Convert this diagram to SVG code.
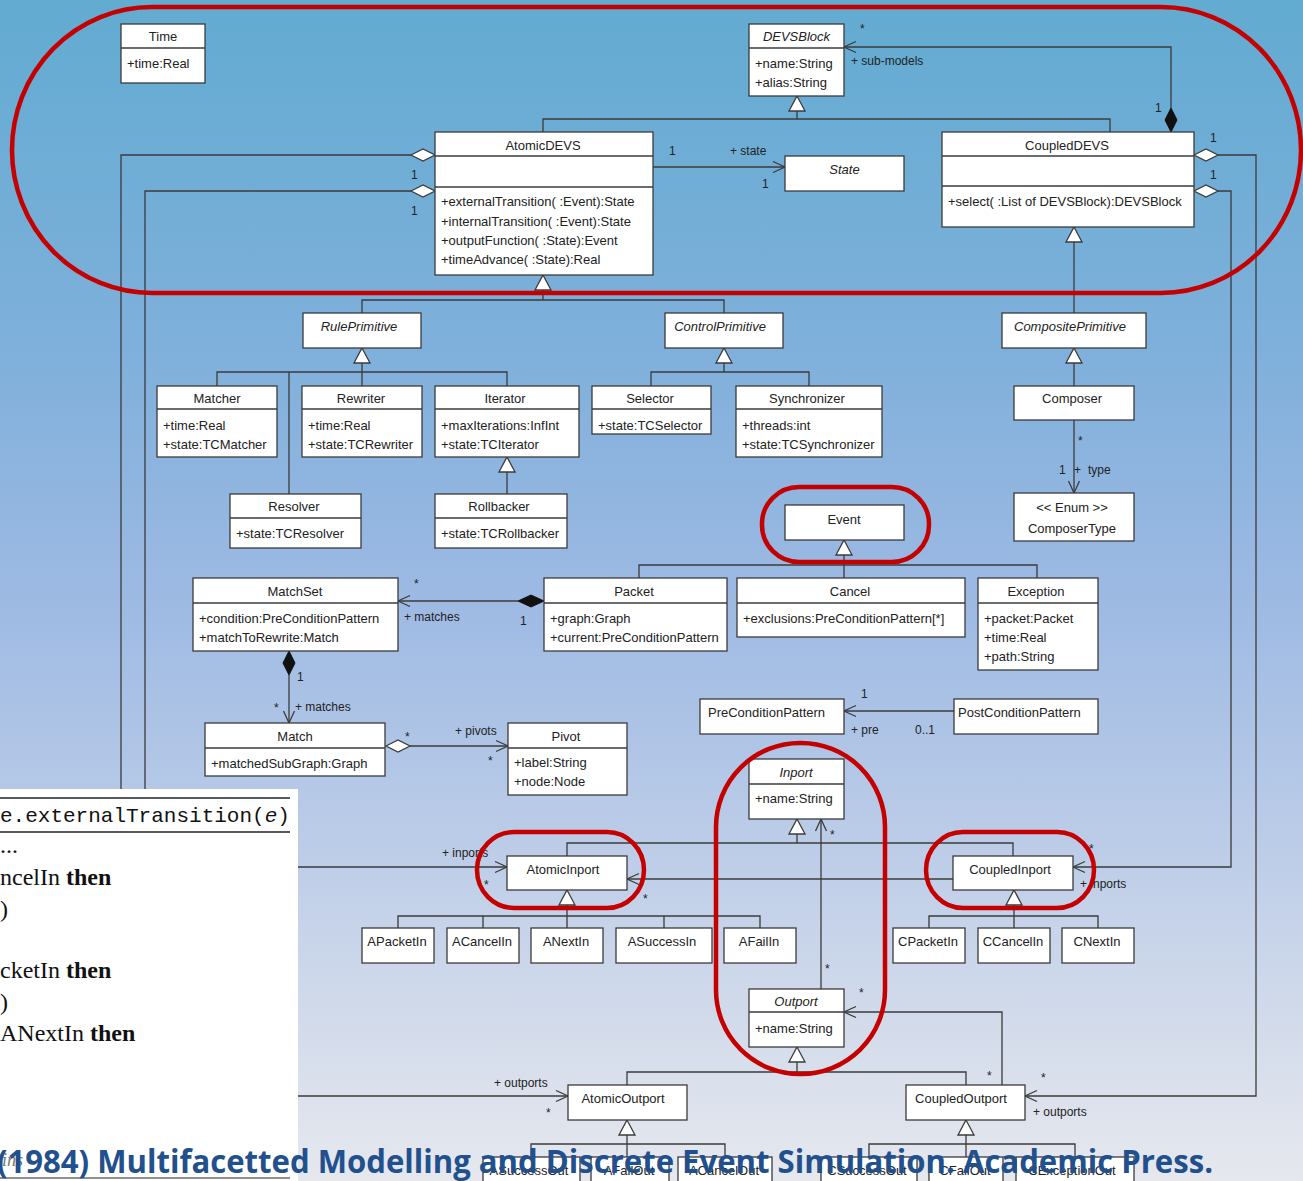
<svg xmlns="http://www.w3.org/2000/svg" xmlns:xlink="http://www.w3.org/1999/xlink" width="1303" height="1181" viewBox="0 0 1303 1181">
  <style>
    .box { fill: #fff; stroke: #3b3b3b; stroke-width: 1.3; }
    .div { stroke: #3b3b3b; stroke-width: 1.3; }
    .ln { fill: none; stroke: #3b3b3b; stroke-width: 1.3; }
    .t { font-family: "Liberation Sans", Arial, sans-serif; font-size: 13px; fill: #222; }
    .c { text-anchor: middle; }
    .i { font-style: italic; }
    .lbl { font-family: "Liberation Sans", Arial, sans-serif; font-size: 12px; fill: #222; }
    .red { fill: none; stroke: #c40000; stroke-width: 4.5; }
    .code { font-family: "Liberation Serif", "Times New Roman", serif; font-size: 24px; fill: #111; }
    .kw { font-weight: bold; }
  </style>
  <defs>
    <linearGradient id="bg" x1="0" y1="0" x2="0" y2="1">
      <stop offset="0" stop-color="#62abd1"/>
      <stop offset="0.3" stop-color="#7fb0db"/>
      <stop offset="0.5" stop-color="#9cb9e3"/>
      <stop offset="0.72" stop-color="#bdcde8"/>
      <stop offset="1" stop-color="#e6e8ee"/>
    </linearGradient>
    <marker id="oa" viewBox="0 0 12 12" refX="12" refY="6" markerWidth="12" markerHeight="12" markerUnits="userSpaceOnUse" orient="auto" overflow="visible">
      <path d="M0,0.5 L12,6 L0,11.5" fill="none" stroke="#3b3b3b" stroke-width="1.3"/>
    </marker>
    <path id="tri" d="M0,0 L8,15 L-8,15 Z" fill="#fff" stroke="#3b3b3b" stroke-width="1.3"/>
    <path id="odh" d="M0,0 L12,-6 L24,0 L12,6 Z" fill="#fff" stroke="#3b3b3b" stroke-width="1.3"/>
    <path id="fdh" d="M0,0 L13,-6 L26,0 L13,6 Z" fill="#111" stroke="#111" stroke-width="1"/>
    <path id="fdv" d="M0,0 L6,12 L0,24 L-6,12 Z" fill="#111" stroke="#111" stroke-width="1"/>
  </defs>

  <rect x="0" y="0" width="1303" height="1181" fill="url(#bg)"/>

  <!-- connectors -->
  <g id="connectors">
    <!-- generalizations -->
    <path class="ln" d="M797,111 V119 M543,132 V119 H1110 V132"/>
    <path class="ln" d="M543,290 V300 M362,313 V300 H724 V313"/>
    <path class="ln" d="M1074,242 V313"/>
    <path class="ln" d="M362,363 V386 M217,386 V372 H507 V386 M289,372 V494"/>
    <path class="ln" d="M507,472 V494"/>
    <path class="ln" d="M724,363 V372 M651,386 V372 H809 V386"/>
    <path class="ln" d="M1074,363 V386"/>
    <path class="ln" d="M844,555 V578 M639,578 V565 H1037 V578"/>
    <path class="ln" d="M797,834 V843 M567,856 V843 H1013 V856"/>
    <path class="ln" d="M567,905 V928 M398,928 V916 H760 V928 M483,916 V928 M664,916 V928"/>
    <path class="ln" d="M1014,905 V928 M929,928 V916 H1098 V928"/>
    <path class="ln" d="M797,1062 V1072 M627,1085 V1072 H966 V1085"/>
    <path class="ln" d="M627,1135 V1157 M531,1157 V1144 H725 V1157"/>
    <path class="ln" d="M966,1135 V1157 M869,1157 V1144 H1075 V1157"/>
    <use href="#tri" x="797" y="96"/>
    <use href="#tri" x="543" y="275"/>
    <use href="#tri" x="1074" y="227"/>
    <use href="#tri" x="362" y="348"/>
    <use href="#tri" x="507" y="457"/>
    <use href="#tri" x="724" y="348"/>
    <use href="#tri" x="1074" y="348"/>
    <use href="#tri" x="844" y="540"/>
    <use href="#tri" x="797" y="819"/>
    <use href="#tri" x="567" y="890"/>
    <use href="#tri" x="1014" y="890"/>
    <use href="#tri" x="797" y="1047"/>
    <use href="#tri" x="627" y="1120"/>
    <use href="#tri" x="966" y="1120"/>

    <!-- associations, aggregations and compositions -->
    <path class="ln" d="M1171,108 V47 H844" marker-end="url(#oa)"/>
    <use href="#fdv" x="1171" y="108"/>
    <path class="ln" d="M653,167 H785" marker-end="url(#oa)"/>
    <path class="ln" d="M411,155 H121 V1096 H568" marker-end="url(#oa)"/>
    <use href="#odh" x="411" y="155"/>
    <path class="ln" d="M411,191 H145 V867 H507" marker-end="url(#oa)"/>
    <use href="#odh" x="411" y="191"/>
    <path class="ln" d="M1218,155 H1256 V1096 H1025" marker-end="url(#oa)"/>
    <use href="#odh" x="1194" y="155"/>
    <path class="ln" d="M1218,191 H1231 V867 H1073" marker-end="url(#oa)"/>
    <use href="#odh" x="1194" y="191"/>
    <path class="ln" d="M1074,420 V493" marker-end="url(#oa)"/>
    <path class="ln" d="M518,601 H398" marker-end="url(#oa)"/>
    <use href="#fdh" x="518" y="601"/>
    <path class="ln" d="M289,675 V723" marker-end="url(#oa)"/>
    <use href="#fdv" x="289" y="651"/>
    <path class="ln" d="M410,746 H508" marker-end="url(#oa)"/>
    <use href="#odh" x="386" y="746"/>
    <path class="ln" d="M954,711 H844" marker-end="url(#oa)"/>
    <path class="ln" d="M821,989 V819" marker-end="url(#oa)"/>
    <path class="ln" d="M953,879 H627" marker-end="url(#oa)"/>
    <path class="ln" d="M1002,1085 V1012 H844" marker-end="url(#oa)"/>

    <!-- role names and multiplicities -->
    <text class="lbl" x="860" y="33">*</text>
    <text class="lbl" x="851" y="65">+ sub-models</text>
    <text class="lbl" x="1155" y="112">1</text>
    <text class="lbl" x="411" y="179">1</text>
    <text class="lbl" x="411" y="215">1</text>
    <text class="lbl" x="1210" y="142">1</text>
    <text class="lbl" x="1210" y="179">1</text>
    <text class="lbl" x="669" y="155">1</text>
    <text class="lbl" x="730" y="155">+ state</text>
    <text class="lbl" x="762" y="188">1</text>
    <text class="lbl" x="1078" y="445">*</text>
    <text class="lbl" x="1059" y="474">1</text>
    <text class="lbl" x="1074" y="474">+</text>
    <text class="lbl" x="1088" y="474">type</text>
    <text class="lbl" x="414" y="588">*</text>
    <text class="lbl" x="404" y="621">+ matches</text>
    <text class="lbl" x="520" y="625">1</text>
    <text class="lbl" x="297" y="681">1</text>
    <text class="lbl" x="274" y="712">*</text>
    <text class="lbl" x="295" y="711">+  matches</text>
    <text class="lbl" x="405" y="741">*</text>
    <text class="lbl" x="455" y="735">+ pivots</text>
    <text class="lbl" x="488" y="765">*</text>
    <text class="lbl" x="861" y="698">1</text>
    <text class="lbl" x="851" y="734">+ pre</text>
    <text class="lbl" x="915" y="734">0..1</text>
    <text class="lbl" x="442" y="857">+ inports</text>
    <text class="lbl" x="484" y="889">*</text>
    <text class="lbl" x="643" y="903">*</text>
    <text class="lbl" x="830" y="839">*</text>
    <text class="lbl" x="825" y="973">*</text>
    <text class="lbl" x="859" y="997">*</text>
    <text class="lbl" x="1089" y="853">*</text>
    <text class="lbl" x="1080" y="888">+ inports</text>
    <text class="lbl" x="494" y="1087">+ outports</text>
    <text class="lbl" x="546" y="1117">*</text>
    <text class="lbl" x="987" y="1080">*</text>
    <text class="lbl" x="1041" y="1082">*</text>
    <text class="lbl" x="1033" y="1116">+ outports</text>
  </g>

  <!-- classes -->
  <g id="Time"><rect class="box" x="121" y="24" width="84" height="59"/><line class="div" x1="121" y1="48" x2="205" y2="48"/><text class="t c" x="163" y="40.5">Time</text><text class="t" x="127" y="67.5">+time:Real</text></g>
  <g id="DEVSBlock"><rect class="box" x="749" y="24" width="95" height="72"/><line class="div" x1="749" y1="48" x2="844" y2="48"/><text class="t c i" x="796.5" y="40.5">DEVSBlock</text><text class="t" x="755" y="67.5">+name:String</text><text class="t" x="755" y="86.5">+alias:String</text></g>
  <g id="AtomicDEVS"><rect class="box" x="435" y="132" width="218" height="143"/><line class="div" x1="435" y1="156" x2="653" y2="156"/><line class="div" x1="435" y1="187" x2="653" y2="187"/><text class="t c" x="543" y="149.5">AtomicDEVS</text><text class="t" x="441" y="206">+externalTransition( :Event):State</text><text class="t" x="441" y="225.5">+internalTransition( :Event):State</text><text class="t" x="441" y="244.5">+outputFunction( :State):Event</text><text class="t" x="441" y="264">+timeAdvance( :State):Real</text></g>
  <g id="State"><rect class="box" x="785" y="156" width="119" height="35"/><text class="t c i" x="844.5" y="174">State</text></g>
  <g id="CoupledDEVS"><rect class="box" x="942" y="132" width="252" height="95"/><line class="div" x1="942" y1="156" x2="1194" y2="156"/><line class="div" x1="942" y1="186" x2="1194" y2="186"/><text class="t c" x="1067" y="149.5">CoupledDEVS</text><text class="t" x="948" y="205.5">+select( :List of DEVSBlock):DEVSBlock</text></g>
  <g id="RulePrimitive"><rect class="box" x="303" y="313" width="118" height="35"/><text class="t c i" x="359" y="330.5">RulePrimitive</text></g>
  <g id="ControlPrimitive"><rect class="box" x="665" y="313" width="118" height="35"/><text class="t c i" x="720" y="330.5">ControlPrimitive</text></g>
  <g id="CompositePrimitive"><rect class="box" x="1002" y="313" width="144" height="35"/><text class="t c i" x="1070" y="330.5">CompositePrimitive</text></g>
  <g id="Matcher"><rect class="box" x="157" y="386" width="120" height="71"/><line class="div" x1="157" y1="409" x2="277" y2="409"/><text class="t c" x="217" y="402.5">Matcher</text><text class="t" x="163" y="429.5">+time:Real</text><text class="t" x="163" y="448.5">+state:TCMatcher</text></g>
  <g id="Rewriter"><rect class="box" x="302" y="386" width="120" height="71"/><line class="div" x1="302" y1="409" x2="422" y2="409"/><text class="t c" x="361" y="402.5">Rewriter</text><text class="t" x="308" y="429.5">+time:Real</text><text class="t" x="308" y="448.5">+state:TCRewriter</text></g>
  <g id="Iterator"><rect class="box" x="435" y="386" width="144" height="71"/><line class="div" x1="435" y1="409" x2="579" y2="409"/><text class="t c" x="505" y="402.5">Iterator</text><text class="t" x="441" y="429.5">+maxIterations:InfInt</text><text class="t" x="441" y="448.5">+state:TCIterator</text></g>
  <g id="Selector"><rect class="box" x="592" y="386" width="119" height="48"/><line class="div" x1="592" y1="409" x2="711" y2="409"/><text class="t c" x="650" y="402.5">Selector</text><text class="t" x="598" y="429.5">+state:TCSelector</text></g>
  <g id="Synchronizer"><rect class="box" x="736" y="386" width="146" height="71"/><line class="div" x1="736" y1="409" x2="882" y2="409"/><text class="t c" x="807" y="402.5">Synchronizer</text><text class="t" x="742" y="429.5">+threads:int</text><text class="t" x="742" y="448.5">+state:TCSynchronizer</text></g>
  <g id="Composer"><rect class="box" x="1014" y="386" width="120" height="34"/><text class="t c" x="1072" y="402.5">Composer</text></g>
  <g id="Resolver"><rect class="box" x="230" y="494" width="131" height="54"/><line class="div" x1="230" y1="518" x2="361" y2="518"/><text class="t c" x="294" y="511">Resolver</text><text class="t" x="236" y="537.5">+state:TCResolver</text></g>
  <g id="Rollbacker"><rect class="box" x="435" y="494" width="132" height="54"/><line class="div" x1="435" y1="518" x2="567" y2="518"/><text class="t c" x="499" y="511">Rollbacker</text><text class="t" x="441" y="537.5">+state:TCRollbacker</text></g>
  <g id="ComposerType"><rect class="box" x="1014" y="493" width="120" height="48"/><text class="t c" x="1072" y="511.5">&lt;&lt; Enum &gt;&gt;</text><text class="t c" x="1072" y="532.5">ComposerType</text></g>
  <g id="Event"><rect class="box" x="785" y="505" width="119" height="35"/><text class="t c" x="844" y="523.5">Event</text></g>
  <g id="MatchSet"><rect class="box" x="193" y="578" width="205" height="73"/><line class="div" x1="193" y1="603" x2="398" y2="603"/><text class="t c" x="295" y="595.5">MatchSet</text><text class="t" x="199" y="622.5">+condition:PreConditionPattern</text><text class="t" x="199" y="641.5">+matchToRewrite:Match</text></g>
  <g id="Packet"><rect class="box" x="544" y="578" width="183" height="73"/><line class="div" x1="544" y1="603" x2="727" y2="603"/><text class="t c" x="634" y="595.5">Packet</text><text class="t" x="550" y="622.5">+graph:Graph</text><text class="t" x="550" y="641.5">+current:PreConditionPattern</text></g>
  <g id="Cancel"><rect class="box" x="737" y="578" width="228" height="59"/><line class="div" x1="737" y1="603" x2="965" y2="603"/><text class="t c" x="850" y="595.5">Cancel</text><text class="t" x="743" y="622.5">+exclusions:PreConditionPattern[*]</text></g>
  <g id="Exception"><rect class="box" x="978" y="578" width="120" height="92"/><line class="div" x1="978" y1="603" x2="1098" y2="603"/><text class="t c" x="1036" y="595.5">Exception</text><text class="t" x="984" y="622.5">+packet:Packet</text><text class="t" x="984" y="641.5">+time:Real</text><text class="t" x="984" y="660.5">+path:String</text></g>
  <g id="PreConditionPattern"><rect class="box" x="700" y="699" width="144" height="35"/><text class="t" x="708" y="716.5">PreConditionPattern</text></g>
  <g id="PostConditionPattern"><rect class="box" x="954" y="699" width="144" height="35"/><text class="t" x="958" y="716.5">PostConditionPattern</text></g>
  <g id="Match"><rect class="box" x="205" y="723" width="180" height="53"/><line class="div" x1="205" y1="748" x2="385" y2="748"/><text class="t c" x="295" y="740.5">Match</text><text class="t" x="211" y="767.5">+matchedSubGraph:Graph</text></g>
  <g id="Pivot"><rect class="box" x="508" y="723" width="119" height="72"/><line class="div" x1="508" y1="748" x2="627" y2="748"/><text class="t c" x="566" y="740.5">Pivot</text><text class="t" x="514" y="766.5">+label:String</text><text class="t" x="514" y="785.5">+node:Node</text></g>
  <g id="Inport"><rect class="box" x="749" y="759" width="95" height="60"/><line class="div" x1="749" y1="784" x2="844" y2="784"/><text class="t c i" x="796" y="776.5">Inport</text><text class="t" x="755" y="802.5">+name:String</text></g>
  <g id="AtomicInport"><rect class="box" x="507" y="856" width="120" height="34"/><text class="t c" x="563" y="873.5">AtomicInport</text></g>
  <g id="CoupledInport"><rect class="box" x="953" y="856" width="120" height="34"/><text class="t c" x="1010" y="873.5">CoupledInport</text></g>
  <g id="APacketIn"><rect class="box" x="362" y="928" width="72" height="35"/><text class="t c" x="397" y="945.5">APacketIn</text></g>
  <g id="ACancelIn"><rect class="box" x="447" y="928" width="72" height="35"/><text class="t c" x="482" y="945.5">ACancelIn</text></g>
  <g id="ANextIn"><rect class="box" x="531" y="928" width="72" height="35"/><text class="t c" x="566" y="945.5">ANextIn</text></g>
  <g id="ASuccessIn"><rect class="box" x="616" y="928" width="96" height="35"/><text class="t c" x="662" y="945.5">ASuccessIn</text></g>
  <g id="AFailIn"><rect class="box" x="724" y="928" width="72" height="35"/><text class="t c" x="759" y="945.5">AFailIn</text></g>
  <g id="CPacketIn"><rect class="box" x="893" y="928" width="72" height="35"/><text class="t c" x="928" y="945.5">CPacketIn</text></g>
  <g id="CCancelIn"><rect class="box" x="978" y="928" width="72" height="35"/><text class="t c" x="1013" y="945.5">CCancelIn</text></g>
  <g id="CNextIn"><rect class="box" x="1062" y="928" width="72" height="35"/><text class="t c" x="1097" y="945.5">CNextIn</text></g>
  <g id="Outport"><rect class="box" x="749" y="989" width="95" height="58"/><line class="div" x1="749" y1="1012" x2="844" y2="1012"/><text class="t c i" x="796" y="1005.5">Outport</text><text class="t" x="755" y="1032.5">+name:String</text></g>
  <g id="AtomicOutport"><rect class="box" x="568" y="1085" width="119" height="35"/><text class="t c" x="623" y="1102.5">AtomicOutport</text></g>
  <g id="CoupledOutport"><rect class="box" x="906" y="1085" width="119" height="35"/><text class="t c" x="961" y="1102.5">CoupledOutport</text></g>
  <g id="ASuccessOut"><rect class="box" x="483" y="1157" width="97" height="40"/><text class="t c" x="529" y="1175">ASuccessOut</text></g>
  <g id="AFailOut"><rect class="box" x="591" y="1157" width="78" height="40"/><text class="t c" x="629" y="1175">AFailOut</text></g>
  <g id="ACancelOut"><rect class="box" x="678" y="1157" width="94" height="40"/><text class="t c" x="724" y="1175">ACancelOut</text></g>
  <g id="CSuccessOut"><rect class="box" x="821" y="1157" width="96" height="40"/><text class="t c" x="867" y="1175">CSuccessOut</text></g>
  <g id="CFailOut"><rect class="box" x="929" y="1157" width="74" height="40"/><text class="t c" x="965" y="1175">CFailOut</text></g>
  <g id="CExceptionOut"><rect class="box" x="1016" y="1157" width="118" height="40"/><text class="t c" x="1072" y="1175">CExceptionOut</text></g>

  <!-- red highlight outlines -->
  <g id="highlights">
    <rect class="red" x="12" y="7" width="1289" height="286" rx="140" ry="143"/>
    <rect class="red" x="762" y="487" width="167" height="75" rx="37" ry="37"/>
    <rect class="red" x="477" y="832" width="167" height="76" rx="37" ry="38"/>
    <rect class="red" x="926" y="832" width="168" height="76" rx="37" ry="38"/>
    <rect class="red" x="716" y="743" width="169" height="331" rx="84" ry="84"/>
  </g>

  <!-- pasted algorithm excerpt -->
  <g id="excerpt">
    <rect x="0" y="789" width="298" height="392" fill="#fff"/>
    <line x1="0" y1="798" x2="290" y2="798" stroke="#222" stroke-width="1.5"/>
    <text x="0" y="822" font-family="'Liberation Mono', 'Courier New', monospace" font-size="21" fill="#111">e.externalTransition(<tspan font-style="italic">e</tspan>)</text>
    <line x1="0" y1="832" x2="290" y2="832" stroke="#222" stroke-width="1.5"/>
    <text class="code" x="0" y="853" font-size="16">...</text>
    <text class="code" x="0" y="885">ncelIn <tspan class="kw">then</tspan></text>
    <text class="code" x="0" y="917">)</text>
    <text class="code" x="0" y="978">cketIn <tspan class="kw">then</tspan></text>
    <text class="code" x="0" y="1010">)</text>
    <text class="code" x="0" y="1041">ANextIn <tspan class="kw">then</tspan></text>
    <text x="2" y="1166" font-family="'Liberation Serif', serif" font-style="italic" font-size="18" fill="#777">ins</text>
    <line x1="0" y1="1178" x2="290" y2="1178" stroke="#222" stroke-width="1.2"/>
  </g>

  <!-- reference caption -->
  <text id="caption" x="-3" y="1173" font-family="'Open Sans', 'Noto Sans', sans-serif" font-weight="bold" font-size="32" fill="#21508d" textLength="1216" lengthAdjust="spacingAndGlyphs">(1984) Multifacetted Modelling and Discrete Event Simulation. Academic Press.</text>
</svg>
